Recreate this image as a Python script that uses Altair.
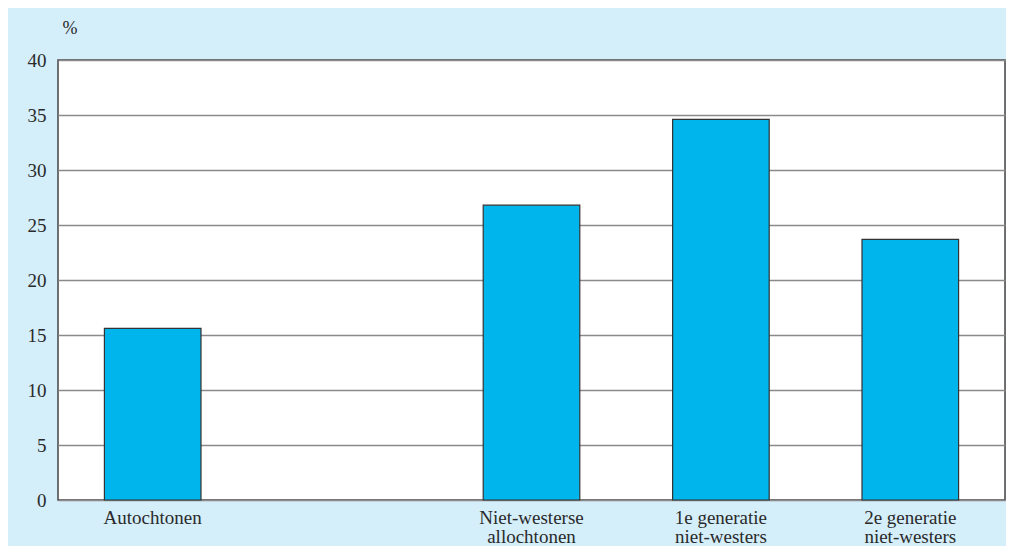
import altair as alt
import pandas as pd

categories = ["Autochtonen", " ", "Niet-westerse|allochtonen", "1e generatie|niet-westers", "2e generatie|niet-westers"]
bar_categories = ["Autochtonen", "Niet-westerse|allochtonen", "1e generatie|niet-westers", "2e generatie|niet-westers"]
values = [15.6, 26.8, 34.6, 23.7]
y_ticks = [0, 5, 10, 15, 20, 25, 30, 35, 40]

df = pd.DataFrame({"cat": bar_categories, "val": values})

FONT = "Liberation Serif"
TXT = "#2a2a2a"

chart = alt.Chart(df).mark_bar(
    color="#00b4ec", stroke="#333333", strokeWidth=1.2
).encode(
    x=alt.X("cat:N", sort=categories,
            scale=alt.Scale(domain=categories, paddingInner=0.49, paddingOuter=0.245),
            axis=alt.Axis(title=None, labelAngle=0, tickSize=0, domain=False,
                          labelPadding=8, labelBaseline="top", labelLineHeight=19,
                          labelExpr="split(datum.label, '|')", labelFontSize=19,
                          labelFont=FONT, labelColor=TXT)),
    y=alt.Y("val:Q", scale=alt.Scale(domain=[0, 40], nice=False),
            axis=alt.Axis(values=y_ticks, title="%", titleAngle=0, titleX=4, titleY=-32,
                          titleAlign="left", titleBaseline="middle", titleFont=FONT,
                          titleFontSize=18, titleFontWeight="normal", titleColor=TXT,
                          tickSize=0, domain=False, labelPadding=12, labelFont=FONT,
                          labelFontSize=19, labelColor=TXT,
                          grid=True, gridColor="#8a8a8a", gridWidth=1.5)),
).properties(
    width=947, height=440,
    autosize=alt.AutoSizeParams(type="none"),
    padding={"left": 50, "top": 52, "right": 1, "bottom": 46},
    background="#d4eefa",
).configure_view(
    stroke="#444444", strokeWidth=1.5, fill="white"
)

chart.save("out.html", embed_options={"renderer": "svg", "actions": False})
